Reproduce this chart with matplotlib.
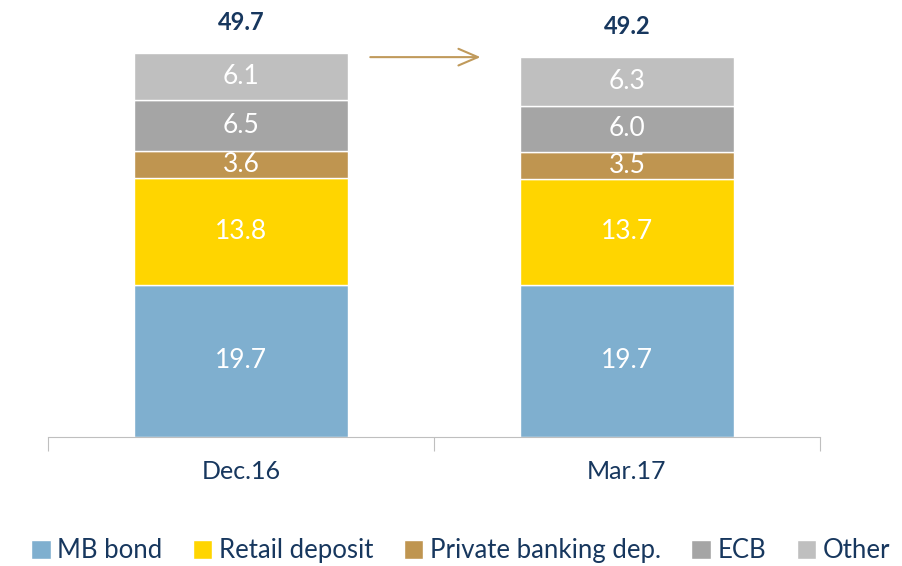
import matplotlib
matplotlib.use("Agg")
import matplotlib.pyplot as plt
import numpy as np

plt.rcParams['font.family'] = ['Lato', 'DejaVu Sans']

# data
periods = ["Dec.16", "Mar.17"]
series = ["MB bond", "Retail deposit", "Private banking dep.", "ECB", "Other"]
mb_bond = [19.7, 19.7]
retail = [13.8, 13.7]
private = [3.6, 3.5]
ecb = [6.5, 6.0]
other = [6.1, 6.3]
totals = [49.7, 49.2]

colors = ["#7FAFCF", "#FFD500", "#BF9550", "#A5A5A5", "#BFBFBF"]
navy = "#17375E"

fig = plt.figure(figsize=(9.03, 5.66), dpi=100)
ax = fig.add_axes([0.053, 0.228, 0.855, 0.772])

x = np.arange(len(periods))
bottom = np.zeros(len(periods))
for vals, name, c in zip([mb_bond, retail, private, ecb, other], series, colors):
    ax.bar(x, vals, 0.555, bottom=bottom, color=c, edgecolor="white",
           linewidth=1, label=name)
    for xi, b, v in zip(x, bottom, vals):
        ax.text(xi, b + v / 2, f"{v:.1f}", ha="center", va="center",
                color="white", fontsize=19)
    bottom += np.array(vals)

for xi, t in zip(x, totals):
    ax.text(xi, t + 4.0, f"{t:.1f}", ha="center", va="center",
            color=navy, fontsize=17, fontweight="bold")

# arrow between bars
ax.annotate("", xy=(0.628, 49.2), xytext=(0.328, 49.2),
            arrowprops=dict(arrowstyle="->,head_length=1.4,head_width=0.6",
                            color="#C09A5B", lw=1.5))

ax.set_xlim(-0.5, 1.5)
ax.set_ylim(0, 56.6)
for s in ["top", "right", "left"]:
    ax.spines[s].set_visible(False)
ax.spines["bottom"].set_color("#BFBFBF")
ax.set_yticks([])
ax.set_xticks([-0.5, 0.5, 1.5])
ax.set_xticklabels([])
ax.tick_params(axis="x", length=10, color="#BFBFBF", direction="out")
for xi, p in zip(x, periods):
    ax.text(xi, -4.5, p, ha="center", va="center", color=navy, fontsize=18)

fig.legend(loc="center", bbox_to_anchor=(0.51, 0.027), ncol=5, frameon=False,
           handlelength=0.75, handleheight=0.75, handletextpad=0.25,
           columnspacing=1.2, fontsize=18.5, labelcolor=navy)

plt.savefig("out.png", dpi=100)
plt.close()
